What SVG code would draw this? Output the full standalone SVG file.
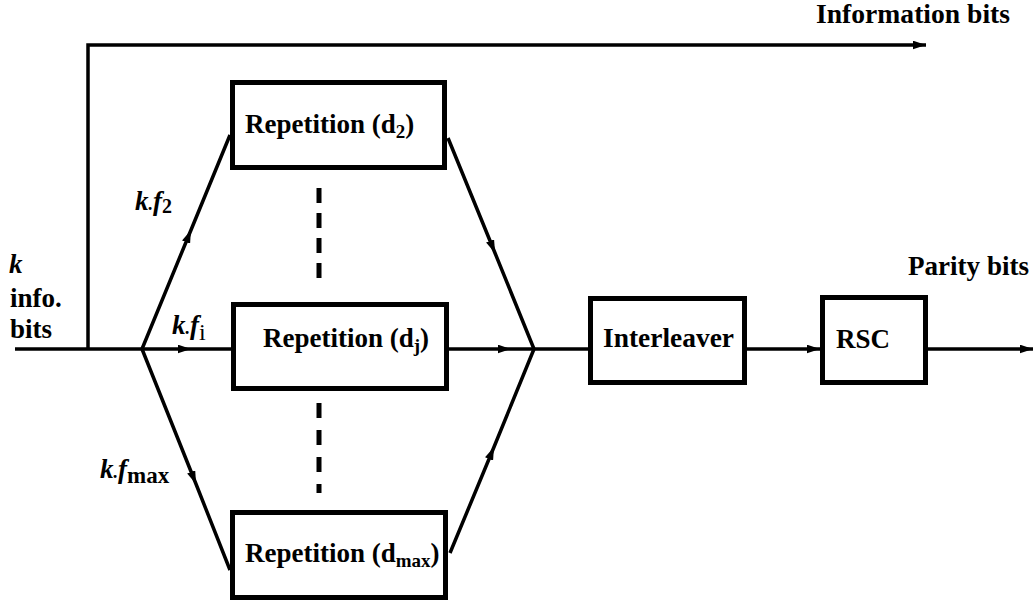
<svg xmlns="http://www.w3.org/2000/svg" width="1034" height="605" viewBox="0 0 1034 605">
<defs>
<style>
.box{fill:#fff;stroke:#000;stroke-width:5}
.ln{fill:none;stroke:#000;stroke-width:3.5}
.dash{fill:none;stroke:#000;stroke-width:5}
.t{font-family:Liberation Serif, DejaVu Serif, serif;font-weight:bold;font-size:27px;fill:#000}
.it{font-style:italic}
.up{font-style:normal}
</style>
<marker id="ah" viewBox="0 0 12 8" refX="12" refY="4" markerWidth="13" markerHeight="9" markerUnits="userSpaceOnUse" orient="auto">
<path d="M0,0 L12,4 L0,8 z" fill="#000"/>
</marker>
</defs>
<rect width="1034" height="605" fill="#fff"/>
<g id="connectors">
<path class="ln" d="M15,349 L142,349"/>
<path class="ln" d="M88,349 L88,45 L926,45" marker-end="url(#ah)"/>
<path class="ln" d="M142,349 L191,230 L230,135" marker-mid="url(#ah)"/>
<path class="ln" d="M142,349 L191,349 L231,349" marker-mid="url(#ah)"/>
<path class="ln" d="M142,349 L196,484 L230,570" marker-mid="url(#ah)"/>
<path class="ln" d="M448,138 L495,253 L534,349" marker-mid="url(#ah)"/>
<path class="ln" d="M449,349 L511,349 L534,349" marker-mid="url(#ah)"/>
<path class="ln" d="M450,553 L494,447 L534,349" marker-mid="url(#ah)"/>
<path class="ln" d="M534,349 L588,349"/>
<path class="ln" d="M747,349 L820,349" marker-end="url(#ah)"/>
<path class="ln" d="M928,349 L1033,349" marker-end="url(#ah)"/>
<path class="dash" d="M319,188 L319,278" stroke-dasharray="15 10"/>
<path class="dash" d="M319,403 L319,493" stroke-dasharray="15 12"/>
</g>
<g id="rep_d2">
<rect class="box" x="232.5" y="82.5" width="212" height="85"/>
<text class="t" font-family="Liberation Serif" x="245" y="133">Repetition (d<tspan font-size="19" dy="5">2</tspan><tspan dy="-5">)</tspan></text>
</g>
<g id="rep_dj">
<rect class="box" x="233.5" y="304.5" width="213" height="84"/>
<text class="t" font-family="Liberation Serif" x="263" y="347">Repetition (d<tspan font-size="19" dy="5">j</tspan><tspan dy="-5">)</tspan></text>
</g>
<g id="rep_dmax">
<rect class="box" x="232.5" y="512.5" width="213" height="85"/>
<text class="t" font-family="Liberation Serif" x="245" y="562">Repetition (d<tspan font-size="19" dy="5">max</tspan><tspan dy="-5">)</tspan></text>
</g>
<g id="interleaver">
<rect class="box" x="590.5" y="298.5" width="154" height="84"/>
<text class="t" font-family="Liberation Serif" x="603" y="347" textLength="131" lengthAdjust="spacingAndGlyphs">Interleaver</text>
</g>
<g id="rsc">
<rect class="box" x="822.5" y="297.5" width="103" height="85"/>
<text class="t" font-family="Liberation Serif" x="836" y="347.5">RSC</text>
</g>
<g id="labels">
<text class="t" font-family="Liberation Serif" x="816" y="23" textLength="194" lengthAdjust="spacingAndGlyphs">Information bits</text>
<text class="t" font-family="Liberation Serif" x="908" y="275" textLength="121" lengthAdjust="spacingAndGlyphs">Parity bits</text>
<text class="t it" font-family="Liberation Serif" x="9" y="273">k</text>
<text class="t" font-family="Liberation Serif" x="10" y="307">info.</text>
<text class="t" font-family="Liberation Serif" x="10" y="338">bits</text>
<text class="t it" font-family="Liberation Serif" x="135" y="210">k<tspan font-size="18">.</tspan>f<tspan class="up" font-size="20" dy="3">2</tspan></text>
<text class="t it" font-family="Liberation Serif" x="172" y="334">k<tspan font-size="18">.</tspan>f<tspan class="up" font-weight="normal" font-size="24" dy="6">i</tspan></text>
<text class="t it" font-family="Liberation Serif" x="100" y="478">k<tspan font-size="18">.</tspan>f<tspan class="up" font-size="23" dy="5">max</tspan></text>
</g>
</svg>
